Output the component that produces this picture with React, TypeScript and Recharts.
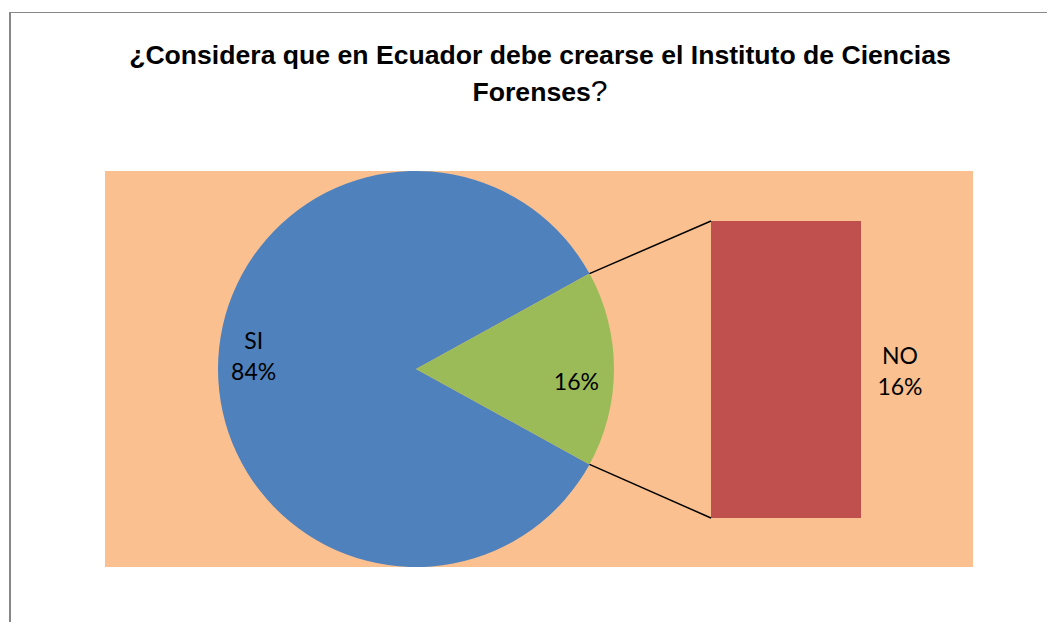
import React from 'react';
import { PieChart, Pie, Cell, BarChart, Bar, XAxis, YAxis, LabelList } from 'recharts';

const pieNames = ['SI', 'NO'];
const pieValues = [84, 16];
const pieColors = ['#4F81BD', '#9BBB59'];
const barNames = ['NO'];
const barValues = [16];
const barColor = '#C0504D';
const titleLine1 = '¿Considera que en Ecuador debe crearse el Instituto de Ciencias';
const titleLine2 = 'Forenses';

const pieData = pieNames.map((n, i) => ({ name: n, value: pieValues[i] }));
const barData = barNames.map((n, i) => ({ name: n, value: barValues[i] }));
const total = pieValues.reduce((a, b) => a + b, 0);
const secondaryShare = (pieValues[1] / total) * 360;

// layout (wrapper coordinates)
const PIE_CX = 408;
const PIE_CY = 361;
const PIE_R = 198;
const BAR_LEFT = 703;
const BAR_TOP = 213;
const BAR_W = 150;
const BAR_H = 297;

const RAD = Math.PI / 180;
const FONT = 'Lato, "Noto Sans", sans-serif';

const renderPieLabel = (props: any) => {
  const { cx, cy, outerRadius, midAngle, startAngle, endAngle, name, percent, index } = props;
  const pct = `${Math.round(percent * 100)}%`;
  const r = outerRadius * 0.82;
  const x = cx + r * Math.cos(-midAngle * RAD);
  const y = cy + r * Math.sin(-midAngle * RAD);
  if (index === 0) {
    return (
      <g key={`l${index}`}>
        <text x={x} y={y - 29} textAnchor="middle" dominantBaseline="central" fontFamily={FONT} fontSize={23} fill="#000">{name}</text>
        <text x={x} y={y + 2} textAnchor="middle" dominantBaseline="central" fontFamily={FONT} fontSize={23} fill="#000">{pct}</text>
      </g>
    );
  }
  const p1 = { x: cx + outerRadius * Math.cos(-endAngle * RAD), y: cy + outerRadius * Math.sin(-endAngle * RAD) };
  const p2 = { x: cx + outerRadius * Math.cos(-startAngle * RAD), y: cy + outerRadius * Math.sin(-startAngle * RAD) };
  const top = p1.y < p2.y ? p1 : p2;
  const bot = p1.y < p2.y ? p2 : p1;
  return (
    <g key={`l${index}`}>
      <line x1={top.x} y1={top.y} x2={BAR_LEFT} y2={BAR_TOP} stroke="#000" strokeWidth={1.5} />
      <line x1={bot.x} y1={bot.y} x2={BAR_LEFT} y2={BAR_TOP + BAR_H} stroke="#000" strokeWidth={1.5} />
      <text x={x - 2} y={y + 12} textAnchor="middle" dominantBaseline="central" fontFamily={FONT} fontSize={23} fill="#000">{pct}</text>
    </g>
  );
};

const renderBarLabel = (props: any) => {
  const { x, y, width, height, value, index } = props;
  const cxl = x + width + 39;
  const cyl = y + height / 2;
  return (
    <g key={`b${index}`}>
      <text x={cxl} y={cyl - 15} textAnchor="middle" dominantBaseline="central" fontFamily={FONT} fontSize={23} fill="#000">{barNames[index]}</text>
      <text x={cxl} y={cyl + 16} textAnchor="middle" dominantBaseline="central" fontFamily={FONT} fontSize={23} fill="#000">{`${Math.round((value / total) * 100)}%`}</text>
    </g>
  );
};

export default function App() {
  return (
    <div style={{ position: 'relative', width: 1047, height: 614, overflow: 'hidden', background: '#fff' }}>
      <div style={{ position: 'absolute', left: 1, top: 4, width: 1200, height: 800, borderLeft: '2px solid #878787', borderTop: '1px solid #878787' }} />
      <div style={{ position: 'absolute', left: 0, top: 30, width: 1064, textAlign: 'center', fontFamily: '"Liberation Sans", Arial, sans-serif', fontWeight: 'bold', fontSize: 26.6, lineHeight: '35px', color: '#000' }}>
        <div>{titleLine1}</div>
        <div>{titleLine2}<span style={{ fontWeight: 'normal', fontSize: 30 }}>?</span></div>
      </div>
      <div style={{ position: 'absolute', left: 97, top: 163, width: 868, height: 396, background: '#FAC090' }} />
      <div style={{ position: 'absolute', left: BAR_LEFT, top: BAR_TOP }}>
        <BarChart width={BAR_W * 2} height={BAR_H} data={barData} margin={{ top: 0, right: BAR_W, bottom: 0, left: 0 }} barCategoryGap={0}>
          <XAxis dataKey="name" hide />
          <YAxis hide domain={[0, barValues[0]]} />
          <Bar dataKey="value" fill={barColor} isAnimationActive={false}>
            <LabelList dataKey="value" content={renderBarLabel} />
          </Bar>
        </BarChart>
      </div>
      <div style={{ position: 'absolute', left: 0, top: 0 }}>
        <PieChart width={1047} height={614} margin={{ top: 0, right: 0, bottom: 0, left: 0 }}>
          <Pie
            data={pieData}
            dataKey="value"
            nameKey="name"
            cx={PIE_CX}
            cy={PIE_CY}
            outerRadius={PIE_R}
            startAngle={secondaryShare / 2}
            endAngle={secondaryShare / 2 + 360}
            stroke="none"
            label={renderPieLabel}
            labelLine={false}
            isAnimationActive={false}
          >
            {pieData.map((d, i) => (
              <Cell key={d.name} fill={pieColors[i]} />
            ))}
          </Pie>
        </PieChart>
      </div>
    </div>
  );
}
